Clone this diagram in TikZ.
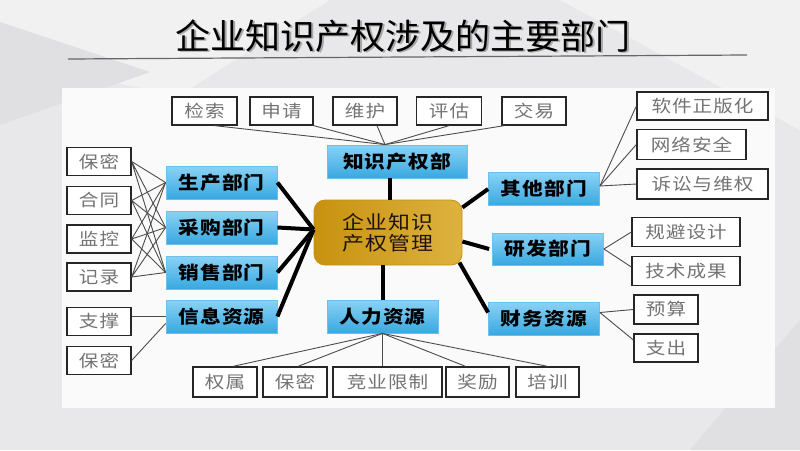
\documentclass[tikz,border=0pt]{standalone}
\usepackage{fontspec}
\newfontfamily\cjk[FakeStretch=1.15,LetterSpace=6]{Noto Sans CJK SC}
\newfontfamily\titlecjk{Noto Sans CJK SC}
\usetikzlibrary{calc}
\definecolor{bgray}{HTML}{E8E8EA}
\definecolor{bglight}{HTML}{F1F1F2}
\definecolor{bgdark}{HTML}{E0E0E2}
\definecolor{panel}{HTML}{FAFAFA}
\definecolor{depttop}{HTML}{8AD2F5}
\definecolor{deptbot}{HTML}{38A8E0}
\definecolor{deptedge}{HTML}{6CC0EC}
\definecolor{goldL}{HTML}{C8920F}
\definecolor{goldR}{HTML}{DDB240}
\tikzset{
	leaf/.style={draw=black!85, line width=1.3pt, fill=white, text=black!55,
		font=\cjk\fontsize{17}{17}\selectfont, minimum height=28pt, inner sep=0pt},
	dept/.style={draw=deptedge, line width=0.8pt, top color=depttop, bottom color=deptbot,
		font=\cjk\bfseries\fontsize{18}{18}\selectfont, minimum width=111pt, minimum height=33pt, inner sep=0pt},
	hub/.style={draw=goldL, line width=0.8pt, rounded corners=11pt, left color=goldL, right color=goldR,
		text=black!85!brown, font=\cjk\fontsize{19}{21}\selectfont, align=center,
		minimum width=148pt, minimum height=65pt, inner sep=0pt},
	heavy/.style={line width=4pt, black},
	twig/.style={line width=0.9pt, black!70},
}
\begin{document}
\begin{tikzpicture}[x=1pt,y=-1pt]
\useasboundingbox (0,0) rectangle (800,450);
% background
\fill[bgray] (0,0) rectangle (800,450);
\fill[bglight] (0,0) -- (330,0) -- (180,95) -- (0,62) -- cycle;
\fill[bgdark] (0,22) -- (150,72) -- (0,125) -- cycle;
\fill[bglight] (560,0) -- (800,0) -- (800,130) -- cycle;
\fill[bgdark] (690,450) -- (800,320) -- (800,450) -- cycle;
\fill[panel] (62,88) rectangle (775,408);
% title
\node[text=black!35, font=\titlecjk\fontsize{35}{35}\selectfont] at (404.5,37.5) {企业知识产权涉及的主要部门};
\node[font=\titlecjk\fontsize{35}{35}\selectfont] (title) at (403,36) {企业知识产权涉及的主要部门};
\draw[black!60, line width=1.2pt] (68,59) -- (747,55);
% centre
\node[hub] (hub) at (388,232.5) {企业知识\\产权管理};
% departments
\node[dept, minimum width=140pt] (zscq) at (397,161.5) {知识产权部};
\node[dept] (shengchan) at (221.5,182.5) {生产部门};
\node[dept] (caigou) at (221.5,227.5) {采购部门};
\node[dept] (xiaoshou) at (221.5,272.5) {销售部门};
\node[dept] (xinxi) at (221.5,316.5) {信息资源};
\node[dept] (renli) at (382.5,316.5) {人力资源};
\node[dept] (qita) at (544,189) {其他部门};
\node[dept, minimum height=32pt] (yanfa) at (548,249) {研发部门};
\node[dept] (caiwu) at (544,318.5) {财务资源};
% leaves, top
\node[leaf, minimum width=65pt] (jiansuo) at (204.5,111) {检索};
\node[leaf, minimum width=63pt] (shenqing) at (281.5,111) {申请};
\node[leaf, minimum width=64pt] (weihu) at (365,111) {维护};
\node[leaf, minimum width=65pt] (pinggu) at (449,111) {评估};
\node[leaf, minimum width=64pt] (jiaoyi) at (534,111) {交易};
% leaves, left
\node[leaf, minimum width=64pt] (baomiL) at (99,161.5) {保密};
\node[leaf, minimum width=64pt] (hetong) at (99,200.5) {合同};
\node[leaf, minimum width=64pt] (jiankong) at (99,239) {监控};
\node[leaf, minimum width=64pt] (jilu) at (99,277) {记录};
\node[leaf, minimum width=64pt] (zhicheng) at (99,321.5) {支撑};
\node[leaf, minimum width=64pt] (baomiI) at (99,360.5) {保密};
% leaves, bottom
\node[leaf, minimum width=64pt, minimum height=30pt] (quanshu) at (225,382) {权属};
\node[leaf, minimum width=64pt, minimum height=30pt] (baomiB) at (295,382) {保密};
\node[leaf, minimum width=109pt, minimum height=30pt] (jingye) at (387.5,382) {竞业限制};
\node[leaf, minimum width=63pt, minimum height=30pt] (jiangli) at (477.5,382) {奖励};
\node[leaf, minimum width=63pt, minimum height=30pt] (peixun) at (547.5,382) {培训};
% leaves, right
\node[leaf, minimum width=131pt] (ruanjian) at (702.5,106) {软件正版化};
\node[leaf, minimum width=109pt, minimum height=30pt] (wangluo) at (691.5,144.5) {网络安全};
\node[leaf, minimum width=131pt, minimum height=30pt] (susong) at (702.5,184) {诉讼与维权};
\node[leaf, minimum width=108pt, minimum height=29pt] (guibi) at (686,232) {规避设计};
\node[leaf, minimum width=108pt, minimum height=29pt] (jishu) at (686,271) {技术成果};
\node[leaf, minimum width=64pt, minimum height=29pt] (yusuan) at (666,309.5) {预算};
\node[leaf, minimum width=64pt] (zhichu) at (666,348) {支出};
% thick connectors
\coordinate (hl) at ([yshift=3pt]hub.west);
\draw[heavy] ([xshift=-7pt]zscq.south) -- ([xshift=-7pt]zscq.south |- hub.north);
\draw[heavy] (hub.south -| renli.north) -- (renli.north);
\draw[heavy] (shengchan.east) -- (hl);
\draw[heavy] (caigou.east) -- (hl);
\draw[heavy] (xiaoshou.east) -- (hl);
\draw[heavy] (xinxi.east) -- (hl);
\draw[heavy] ([yshift=25pt]hub.east) -- (qita.west);
\draw[heavy] ([yshift=-9pt]hub.east) -- ([xshift=-3pt]yanfa.west);
\draw[heavy] ([xshift=-3pt,yshift=-30pt]hub.east) -- ([yshift=6pt]caiwu.west);
% thin connectors
\coordinate (zq) at ([xshift=-12pt]zscq.north);
\draw[twig] ([xshift=10pt]jiansuo.south) -- (zq);
\draw[twig] (shenqing.south east) -- (zq);
\draw[twig] ([xshift=12pt]weihu.south) -- (zq);
\draw[twig] (pinggu.south) -- (zq);
\draw[twig] ([xshift=3pt]jiaoyi.south west) -- (zq);
\draw[twig] (baomiL.east) -- (shengchan.west) (baomiL.east) -- (caigou.west) (baomiL.east) -- (xiaoshou.west);
\draw[twig] (hetong.east) -- (shengchan.west) (hetong.east) -- (caigou.west) (hetong.east) -- (xiaoshou.west);
\draw[twig] (jiankong.east) -- (shengchan.west) (jiankong.east) -- (caigou.west) (jiankong.east) -- (xiaoshou.west);
\draw[twig] (jilu.east) -- (shengchan.west) (jilu.east) -- (caigou.west) (jilu.east) -- (xiaoshou.west);
\draw[twig] (xinxi.west) -- (xinxi.west -| zhicheng.east);
\draw[twig] ([yshift=-7pt]xinxi.west) -- (baomiI.east);
\coordinate (qr) at ([yshift=3pt]qita.east);
\draw[twig] (qr) -- (ruanjian.west);
\draw[twig] (qr) -- (wangluo.west);
\draw[twig] (qr) -- (susong.west);
\draw[twig] (yanfa.east) -- (guibi.west);
\draw[twig] (yanfa.east) -- ([yshift=4pt]jishu.west);
\draw[twig] ([yshift=6pt]caiwu.east) -- (yusuan.west);
\draw[twig] ([yshift=6pt]caiwu.east) -- ([yshift=8pt]zhichu.west);
\draw[twig] (renli.south) -- ([xshift=8pt]quanshu.north);
\draw[twig] (renli.south) -- ([xshift=3pt]baomiB.north);
\draw[twig] (renli.south) -- (renli.south |- jingye.north);
\draw[twig] (renli.south) -- ([xshift=-12pt]jiangli.north);
\draw[twig] (renli.south) -- (peixun.north);
\end{tikzpicture}
\end{document}
